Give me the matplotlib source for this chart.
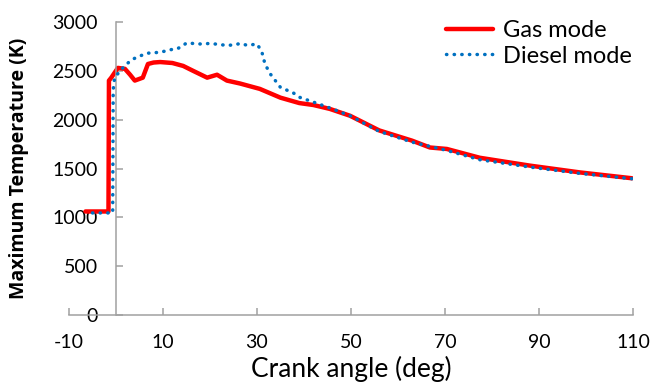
import matplotlib.pyplot as plt
import numpy as np

plt.rcParams['font.family'] = ['Lato', 'DejaVu Sans']
plt.rcParams['axes.unicode_minus'] = False

# crank angle (deg) and peak in-cylinder temperature (K)
gas_angle = [-6.5, -1.6, -1.5, -1.0, 0.4, 1.9, 3.0, 4.0, 5.7, 6.8, 8.0, 9.4,
             12.0, 14.3, 16.4, 19.4, 21.5, 23.6, 26.4, 30.6, 35.0, 39.0, 42.0,
             45.5, 49.8, 56.0, 63.0, 66.8, 70.4, 77.4, 88.0, 98.7, 109.8]
gas_temp = [1060, 1060, 2400, 2430, 2530, 2520, 2460, 2400, 2430, 2570, 2585,
            2590, 2580, 2550, 2500, 2430, 2460, 2400, 2370, 2315, 2225, 2170,
            2150, 2110, 2040, 1890, 1785, 1715, 1700, 1610, 1530, 1460, 1400]

diesel_angle = [-5.0, -0.7, -0.6, -0.3, 0.9, 2.0, 3.6, 5.0, 6.6, 9.4, 12.0,
                13.0, 14.0, 15.0, 17.9, 20.0, 22.0, 23.5, 25.0, 26.5, 28.0,
                30.0, 31.0, 31.7, 32.8, 35.0, 37.7, 39.0, 42.0, 45.5, 49.8,
                56.0, 63.0, 70.4, 77.4, 88.0, 98.7, 109.8]
diesel_temp = [1045, 1045, 2300, 2430, 2500, 2560, 2620, 2650, 2680, 2690,
               2720, 2725, 2750, 2785, 2775, 2780, 2770, 2760, 2765, 2780,
               2760, 2775, 2700, 2570, 2470, 2330, 2275, 2230, 2180, 2120,
               2040, 1880, 1770, 1685, 1590, 1515, 1450, 1395]

fig = plt.figure(figsize=(6.59, 3.83), dpi=100)
ax = fig.add_axes([0.1047, 0.1775, 0.8558, 0.7651])

ax.plot(gas_angle, gas_temp, color='#ff0000', lw=3.2, label='Gas mode',
        solid_joinstyle='round', solid_capstyle='round', zorder=2)
ax.plot(diesel_angle, diesel_temp, color='#0070c0', lw=2.5,
        linestyle=(0, (0.1, 2.1)), dash_capstyle='round', label='Diesel mode',
        zorder=3)

ax.set_xlim(-10, 110)
ax.set_ylim(0, 3000)
ax.set_xticks(np.arange(-10, 111, 20))
ax.set_yticks(np.arange(0, 3001, 500))

axis_grey = '#a0a0a0'
ax.spines['left'].set_position(('data', 0))
ax.spines['top'].set_visible(False)
ax.spines['right'].set_visible(False)
for side in ('left', 'bottom'):
    ax.spines[side].set_color(axis_grey)
    ax.spines[side].set_linewidth(1.1)
ax.tick_params(axis='both', direction='in', length=5, width=1.1,
               color=axis_grey, labelsize=14)
ax.tick_params(axis='y', pad=13)
ax.tick_params(axis='x', pad=14)

ax.set_xlabel('Crank angle (deg)', fontsize=19, labelpad=3)
ax.set_ylabel('Maximum Temperature (K)', fontsize=14, fontweight='bold',
              family=['Open Sans', 'DejaVu Sans'])
ax.yaxis.set_label_coords(-0.071, 0.5)

ax.legend(loc='upper right', bbox_to_anchor=(1.035, 1.08), frameon=False,
          fontsize=17, handlelength=2.0, handletextpad=0.4,
          labelspacing=0.2)

fig.savefig('out.png', dpi=100)
